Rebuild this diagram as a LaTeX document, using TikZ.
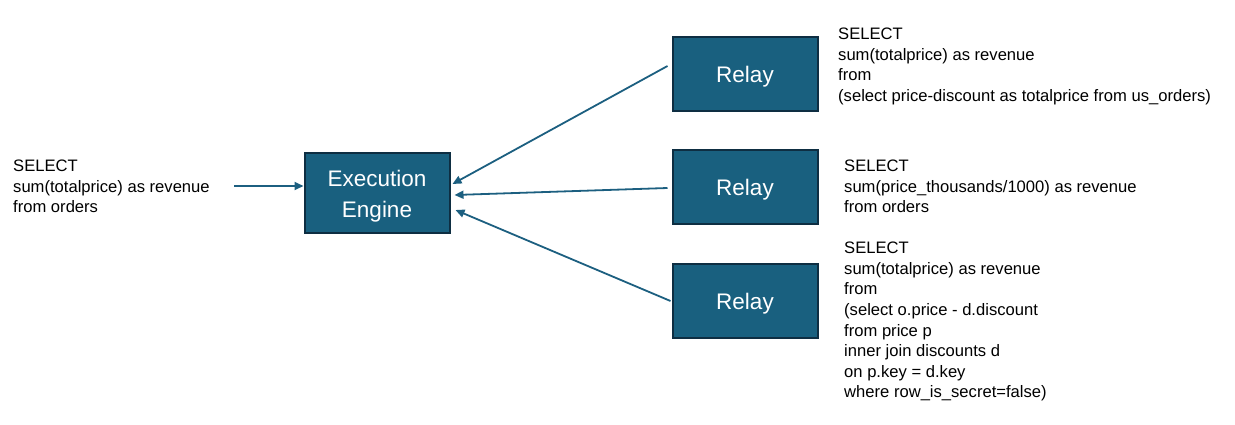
\documentclass[tikz,border=0pt]{standalone}
\usepackage{fontspec}
\setmainfont{Liberation Sans}
\usetikzlibrary{arrows.meta}
\definecolor{boxfill}{HTML}{19607F}
\definecolor{boxline}{HTML}{0E2E42}
\definecolor{arr}{HTML}{1C5F80}
\newcommand{\lowertext}[1]{\raisebox{-3pt}[\height][\depth]{#1}}
\tikzset{
  procbox/.style={draw=boxline, line width=2pt, fill=boxfill, text=white, minimum width=145pt, minimum height=74pt, font=\fontsize{22.5}{31}\selectfont, inner sep=0pt},
  sqltext/.style={anchor=north west, align=left, inner sep=0pt, font=\fontsize{16.6}{20.6}\selectfont},
  conn/.style={draw=arr, line width=1.8pt, -{Triangle[length=9pt,width=8pt]}}
}
\begin{document}
\begin{tikzpicture}[x=1pt,y=-1pt]
\useasboundingbox (0,0) rectangle (1235,424);
\node[procbox, minimum height=80pt] (ee) at (377,193) {\lowertext{\begin{tabular}{@{}c@{}}Execution\\Engine\end{tabular}}};
\node[procbox] (r1) at (745,74) {\lowertext{Relay}};
\node[procbox] (r2) at (745,187) {\lowertext{Relay}};
\node[procbox] (r3) at (745,301) {\lowertext{Relay}};
\node[sqltext] (q0) at (13,160) {SELECT\\sum(totalprice) as revenue\\from orders};
\node[sqltext] (q1) at (838,28) {SELECT\\sum(totalprice) as revenue\\from\\(select price-discount as totalprice from us\_orders)};
\node[sqltext] (q2) at (844,160) {SELECT\\sum(price\_thousands/1000) as revenue\\from orders};
\node[sqltext] (q3) at (844,242) {SELECT\\sum(totalprice) as revenue\\from\\(select o.price - d.discount\\from price p\\inner join discounts d\\on p.key = d.key\\where row\_is\_secret=false)};
\coordinate (in) at (234,186);
\draw[conn] (in) -- ([yshift=7pt]ee.west);
\draw[conn] ([xshift=-4pt,yshift=8pt]r1.west) -- ([xshift=2pt,yshift=9pt]ee.east);
\draw[conn] ([xshift=-4pt,yshift=-1pt]r2.west) -- ([xshift=4pt,yshift=-2pt]ee.east);
\draw[conn] ([xshift=-1pt]r3.west) -- ([xshift=5pt,yshift=-17pt]ee.east);
\end{tikzpicture}
\end{document}
